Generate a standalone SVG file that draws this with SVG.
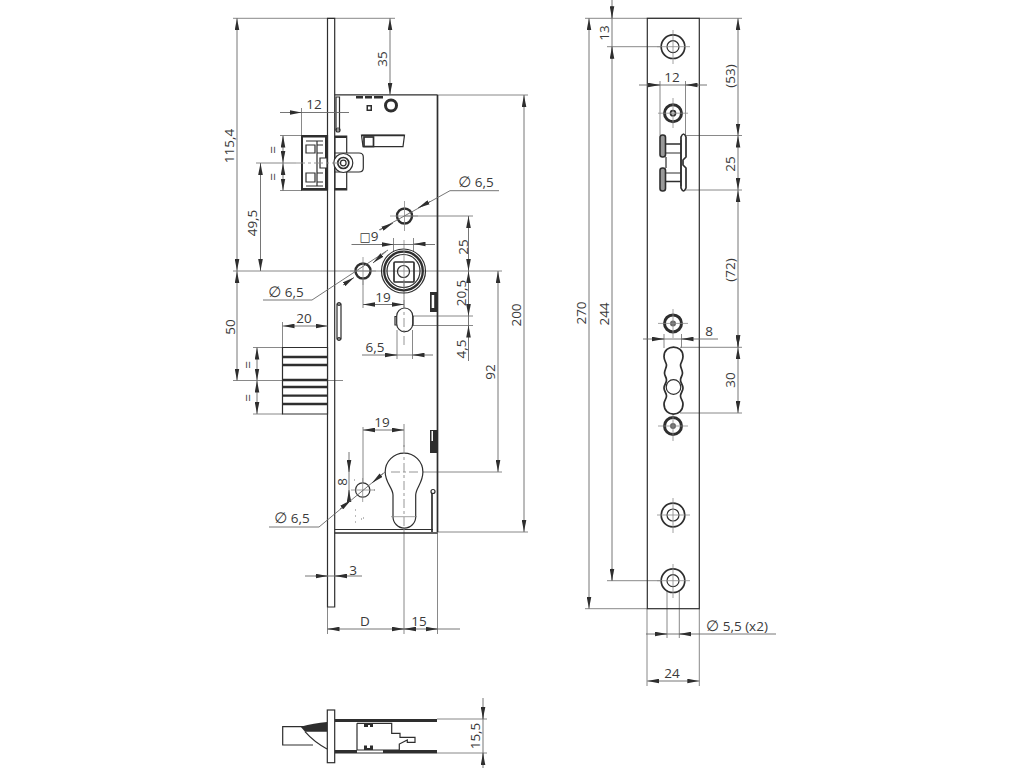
<svg xmlns="http://www.w3.org/2000/svg" width="1024" height="768" viewBox="0 0 1024 768">
<style>
text{font-family:"Open Sans","DejaVu Sans",sans-serif;font-size:13.5px;fill:#3a3a3a;text-anchor:middle}
.dia{font-size:15px}
.o{fill:none;stroke:#2e2e2e;stroke-width:1.2}
.w{fill:#fff;stroke:#2e2e2e;stroke-width:1.2}
.t{fill:none;stroke:#2e2e2e;stroke-width:2.4}
.r{fill:none;stroke:#2e2e2e;stroke-width:3}
.m{fill:none;stroke:#2e2e2e;stroke-width:1.7}
.s{fill:none;stroke:#2e2e2e;stroke-width:2.3}
.k{fill:#2e2e2e;stroke:none}
.x{fill:none;stroke:#7c7c7c;stroke-width:.9}
.c{fill:none;stroke:#8a8a8a;stroke-width:.8}
.e{fill:none;stroke:#8a8a8a;stroke-width:.9;stroke-dasharray:9 3 3 3}
.d{fill:none;stroke:#666;stroke-width:.9;marker-start:url(#a);marker-end:url(#a)}
.a{fill:none;stroke:#666;stroke-width:.9;marker-end:url(#a)}
.l{fill:none;stroke:#666;stroke-width:.9}
</style>
<defs>
<marker id="a" markerUnits="userSpaceOnUse" markerWidth="12" markerHeight="5" viewBox="0 0 12 5" refX="12" refY="2.5" orient="auto-start-reverse"><path d="M0 .2L12 2.5L0 4.8Z" fill="#2e2e2e"/></marker>
</defs>
<rect width="1024" height="768" fill="#fff"/>

<g id="extension-lines">
<path class="x" d="M233 18.3H395M233 271H502M233 380.5H343M256 163H296M280 135.5H302M280 190.5H302M253 347.5H283M253 414H283"/>
<path class="x" d="M437 95H528M437 532H528M405 216H473M412 316H473M412 325.5H473M388 472H502"/>
<path class="x" d="M301.5 108V135M282.5 322V347M393.5 238V252M413.5 238V252M363 280V308M404 280V308M397 330V359M412.5 330V359M363 427V483M404 424V447M327.5 607V634M437.5 532V634M404 532V634"/>
<path class="x" d="M585 18.3H742M585 608.7H647M607 46.7H662M607 580.7H662M685.5 135.5H742M685.5 190H742M680 347.3H742M680 413H742"/>
<path class="x" d="M660 81V135M685.5 81V135M664 334V348M681.5 334V348M667 590V638M679.3 590V638M647 609V686M699.3 609V686"/>
<path class="x" d="M437 719H487M437 753H487"/>
</g>

<g id="front-view">
<path class="o" d="M327.5 18.3H334.7V607H327.5Z"/>
<path class="o" d="M334.7 94.8H437.5"/>
<path class="m" d="M437.5 95V532M334.7 533H437.5"/>
<path class="o" d="M334.7 529.5H433"/>
<path class="k" d="M356 96H363V98.5H356ZM365 96H372V98.5H365ZM374 96H383V98.5H374ZM366.5 105H372V111H366.5Z"/>
<rect fill="#fff" x="368" y="106.5" width="2.5" height="3"/>
<circle class="r" cx="391" cy="105.5" r="5.5"/>
<path class="w" d="M336 97H339.5V130H336Z"/>
<circle class="o" cx="338" cy="130" r="2"/>
<path class="w" d="M361.5 135H404.5L403 146.7H363Z"/>
<path class="m" d="M362 135.5H404"/>
<rect class="m" x="364" y="137" width="9.5" height="9.5"/>
<path class="w" d="M335 136H346.7V190H335Z"/>
<path class="k" d="M335 136H346.7V138H335ZM335 188H346.7V190H335Z"/>
<path class="w" d="M335 153H359Q363.3 153 363.3 157V168Q363.3 172 359 172H335Z"/>
<circle class="w" cx="343.3" cy="163" r="9.5"/>
<circle class="m" cx="343.3" cy="163" r="5.5"/>
<circle class="o" cx="343.3" cy="163" r="2.8"/>
<path class="w" d="M301.7 135.5H327.5V190H301.7Z"/>
<path class="k" d="M301 135.5H327.5V137.5H303V188H327.5V190.5H301ZM325 136H327.5V190H325Z"/>
<path class="o" d="M306 145H315V153H306ZM317 141V186M306 173H315V182H306ZM317 145H323M317 153H323M317 173H323M317 182H323M306 141H323M306 186H323"/>
<path class="w" d="M320 158H327V168H320Z"/>
<path class="e" d="M296 163H340"/>

<circle class="t" cx="404.5" cy="216" r="7.5"/>
<path class="c" d="M404.5 201V231M390 216H418"/>
<circle class="t" cx="363" cy="271" r="7.5"/>
<path class="c" d="M363 257V285M350 271H376"/>

<circle class="o" cx="403.5" cy="271" r="22"/>
<circle class="s" cx="403.5" cy="271" r="19.3"/>
<circle class="o" cx="403.5" cy="271" r="16.5"/>
<rect class="m" x="394" y="262" width="20" height="20" rx="1"/>
<circle class="o" cx="403.5" cy="271.5" r="6"/>
<path class="c" d="M404 240V290"/>

<path class="k" d="M430 292H437V312H430Z"/>
<rect fill="#fff" x="431.7" y="295" width="2.5" height="13"/>
<path class="w" d="M337 304H341V339H337Z"/>
<circle class="o" cx="339" cy="304" r="1.5"/>
<circle class="o" cx="339" cy="339" r="1.5"/>

<path class="w" d="M395 316.5H413V325H395Z"/>
<rect class="w" x="396.7" y="308" width="16" height="23.7" rx="8"/>
<path class="e" d="M404 300V345"/>

<path class="w" d="M282.5 347.5H327.5V414H282.5Z"/>
<path class="s" d="M282.5 357H327.5M282.5 365H327.5M282.5 380H327.5M282.5 387H327.5M282.5 395.7H327.5M282.5 404H327.5"/>

<path class="k" d="M430 430H437V453H430Z"/>
<rect fill="#fff" x="431.5" y="431" width="1.5" height="10"/>
<path class="m" d="M432 493V532"/>
<circle class="w" cx="433" cy="491.5" r="2"/>

<path class="w" d="M393 516.7V495C393 488 385.2 483 385.2 472A18.8 18.8 0 0 1 422.9 472C422.9 483 415.7 488 415.7 495V516.7A11.35 11.35 0 0 1 393 516.7Z"/>
<path class="e" d="M404 445V532M391 472H418"/>
<path class="c" d="M391 516.7H417"/>
<circle class="o" cx="362.7" cy="490" r="7.2"/>
<path class="c" d="M362.7 478V502M351 490H375"/>
<path d="M354 480h1M374 490h1M355 510h1M355 516h1M363 518h1M361 519h1M355 522h1" stroke="#777" stroke-width="1"/>
</g>

<g id="strike-plate">
<rect class="o" x="647.3" y="18.3" width="52" height="590.4"/>
<g id="hole-1"><circle class="m" cx="673" cy="46.7" r="11.8"/><circle class="o" cx="673" cy="46.7" r="6"/><path class="c" d="M673 30V64M657 46.7H690"/></g>
<g id="hole-2"><circle class="r" cx="673" cy="113.2" r="8.5"/><circle class="m" cx="673" cy="113.2" r="2.5"/><path class="c" d="M673 98V128M658 113.2H688"/></g>
<g id="hole-3"><circle class="r" cx="673" cy="323.4" r="8.5"/><circle cx="673" cy="323.4" r="3" fill="#666"/><path class="c" d="M673 309V338M658 323.4H688"/></g>
<g id="hole-4"><circle class="r" cx="673" cy="426" r="8.5"/><circle cx="673" cy="426" r="3" fill="#666"/><path class="c" d="M673 412V441M658 426H688"/></g>
<g id="hole-5"><circle class="m" cx="673" cy="515" r="11.8"/><circle class="o" cx="673" cy="515" r="6"/><path class="c" d="M673 498V533M657 515H690"/></g>
<g id="hole-6"><circle class="m" cx="673" cy="580.7" r="11.8"/><circle class="o" cx="673" cy="580.7" r="6"/><path class="c" d="M673 564V598M657 580.7H690"/></g>
<g id="latch-opening">
<rect x="660" y="135" width="5.5" height="22" rx="2.5" fill="#999" stroke="#2e2e2e" stroke-width="1.6"/>
<rect x="660" y="168" width="5.5" height="23" rx="2.5" fill="#999" stroke="#2e2e2e" stroke-width="1.6"/>
<path class="m" d="M681 137Q683.5 131 686 137V157L683 160V165L686 168V188Q683.5 194 681 188Z"/>
<path class="m" d="M665.5 144H681M665.5 181.5H681"/>
<path class="o" d="M666 153H681M666 173H681M666 157V168M681 140V186"/>
</g>
<g id="bolt-opening">
<path class="w" style="stroke-width:1.7" d="M664 356.5C664 344 683 344 683 356.5C683 361 680.5 362.500 680.500 365C680.500 368 682.500 370 682.500 373C682.500 376 680.500 377 680.500 380C680.500 383 683 385 683 388C683 391 680.500 393 680.500 396C680.500 399 683 400.500 683 404C683 417.500 664 417.500 664 404C664 400.500 666.500 399 666.500 396C666.500 393 664 391 664 388C664 385 666.500 383 666.500 380C666.500 377 664.500 376 664.500 373C664.500 370 666.500 368 666.500 365C666.500 362.500 664 361 664 356.500Z"/>
<circle class="w" cx="673.500" cy="387" r="7.300"/>
</g>
</g>

<g id="end-view">
<rect class="w" x="327.3" y="710" width="7.4" height="52.7"/>
<path class="o" d="M327 726.7H282.7V745H313"/>
<path class="k" d="M300.700 726.700C310 724 318 723 327 722V731.700H305Z"/>
<path class="o" d="M305 731.700Q314 742 327 749"/>
<path class="k" d="M335 719H437V722H335ZM335 750H357V753H335ZM383 750H437V753H383Z"/>
<path class="o" d="M357 723.300V750M357 723.300H391.700V733.300H400V737.300H415V742.300H407.300V740L399.300 744V750H357M335 753H437"/>
<path class="k" d="M364 723V727H368V725H370V727H373V723ZM364 750V745.500H367V748H370V745.500H373V750Z"/>
</g>

<g id="connectors">
<path class="d" d="M237 18.3V271"/>
<path class="d" d="M237 271V380.5"/>
<path class="d" d="M260.5 163V271"/>
<path class="d" d="M283 135.5V163"/>
<path class="d" d="M283 163V190.5"/>
<path class="l" d="M280 112.5H349"/><path class="a" d="M289 112.5H301.5"/>
<path class="d" d="M390 18.3V95"/>
<path class="d" d="M524 95V532"/>
<path class="d" d="M498 271V472"/>
<path class="d" d="M468.5 216V271"/>
<path class="d" d="M468.5 271V316"/>
<path class="l" d="M468.5 316V361"/><path class="a" d="M468.5 337V325.5"/>
<path class="l" d="M351.5 244.5H435"/><path class="a" d="M381 244.5H393.5"/><path class="a" d="M425 244H413.5"/>
<path class="l" d="M499 190.7H450L379 230"/><path class="a" d="M430 201.500L418 208"/><path class="a" d="M380 230L393 223"/>
<path class="l" d="M263 300H312L388 250"/><path class="a" d="M343 285L354 277.500"/><path class="a" d="M386 251.500L373 263"/>
<path class="d" d="M363 304.5H404"/>
<path class="l" d="M362 355H433"/><path class="a" d="M385 355H397"/><path class="a" d="M424 355H412.5"/>
<path class="d" d="M282.5 326H327.5"/>
<path class="d" d="M257 347.5V380.5"/>
<path class="d" d="M257 380.5V414"/>
<path class="d" d="M363 430H404"/>
<path class="l" d="M349 452V500"/><path class="a" d="M349 460V472"/><path class="a" d="M349 501V490"/>
<path class="l" d="M269 527H319L385 472"/><path class="a" d="M383 473.500L372 483"/><path class="a" d="M340 509L351 500"/>
<path class="l" d="M305 576H362"/><path class="a" d="M315.5 576H327.5"/><path class="a" d="M347 576H335"/>
<path class="l" d="M327.5 629H460"/><path class="a" d="M339 629H327.5"/><path class="a" d="M392 629H404"/><path class="a" d="M416 629H404"/><path class="a" d="M426 629H437.5"/>
<path class="d" d="M589 18.3V608.7"/>
<path class="l" d="M612 0V580.7"/><path class="a" d="M612 6V18.3"/><path class="a" d="M612 59V46.7"/><path class="a" d="M612 568.5V580.7"/>
<path class="l" d="M639 85H707"/><path class="a" d="M648 85H660"/><path class="a" d="M697.5 85H685.5"/>
<path class="d" d="M738 18.3V135.5"/>
<path class="d" d="M738 135.5V190"/>
<path class="d" d="M738 190V347.3"/>
<path class="d" d="M738 347.3V413"/>
<path class="a" d="M738 335.3V347.3"/>
<path class="l" d="M643 339H718"/><path class="a" d="M653 339H664"/><path class="a" d="M693 339H681.5"/>
<path class="l" d="M646 634H776"/><path class="a" d="M655 634H667"/><path class="a" d="M691 634H679.3"/>
<path class="d" d="M647.3 681H699.3"/>
<path class="l" d="M483 698V768"/><path class="a" d="M483 707V719"/><path class="a" d="M483 765V753"/>
</g>

<g id="labels">
<text transform="translate(234,146) rotate(-90)">115,4</text>
<text transform="translate(387,59) rotate(-90)">35</text>
<text x="314" y="109">12</text>
<text transform="translate(278,150) rotate(-90)">=</text>
<text transform="translate(278,177) rotate(-90)">=</text>
<text transform="translate(257,223) rotate(-90)">49,5</text>
<text x="476" y="187"><tspan class="dia">∅</tspan> 6,5</text>
<text x="369" y="241"><tspan style="font-size:12px">□</tspan>9</text>
<text transform="translate(468,247) rotate(-90)">25</text>
<text x="286" y="297"><tspan class="dia">∅</tspan> 6,5</text>
<text x="383" y="302">19</text>
<text transform="translate(466,293) rotate(-90)">20,5</text>
<text transform="translate(466,349) rotate(-90)">4,5</text>
<text transform="translate(495,372) rotate(-90)">92</text>
<text transform="translate(521,315) rotate(-90)">200</text>
<text transform="translate(235,327) rotate(-90)">50</text>
<text x="304" y="323">20</text>
<text transform="translate(253,365) rotate(-90)">=</text>
<text transform="translate(253,398) rotate(-90)">=</text>
<text x="375" y="352">6,5</text>
<text x="382" y="427">19</text>
<text transform="translate(347,482) rotate(-90)">8</text>
<text x="292" y="523"><tspan class="dia">∅</tspan> 6,5</text>
<text x="353" y="575">3</text>
<text x="365" y="626">D</text>
<text x="419" y="626">15</text>
<text transform="translate(480,736) rotate(-90)">15,5</text>
<text transform="translate(586,313) rotate(-90)">270</text>
<text transform="translate(609,314) rotate(-90)">244</text>
<text transform="translate(609,33) rotate(-90)">13</text>
<text x="672" y="82">12</text>
<text transform="translate(735,76) rotate(-90)">(53)</text>
<text transform="translate(735,164) rotate(-90)">25</text>
<text transform="translate(735,270) rotate(-90)">(72)</text>
<text transform="translate(735,380) rotate(-90)">30</text>
<text x="709" y="336">8</text>
<text x="737" y="631"><tspan class="dia">∅</tspan> 5,5 (x2)</text>
<text x="672" y="678">24</text>
</g>
</svg>
